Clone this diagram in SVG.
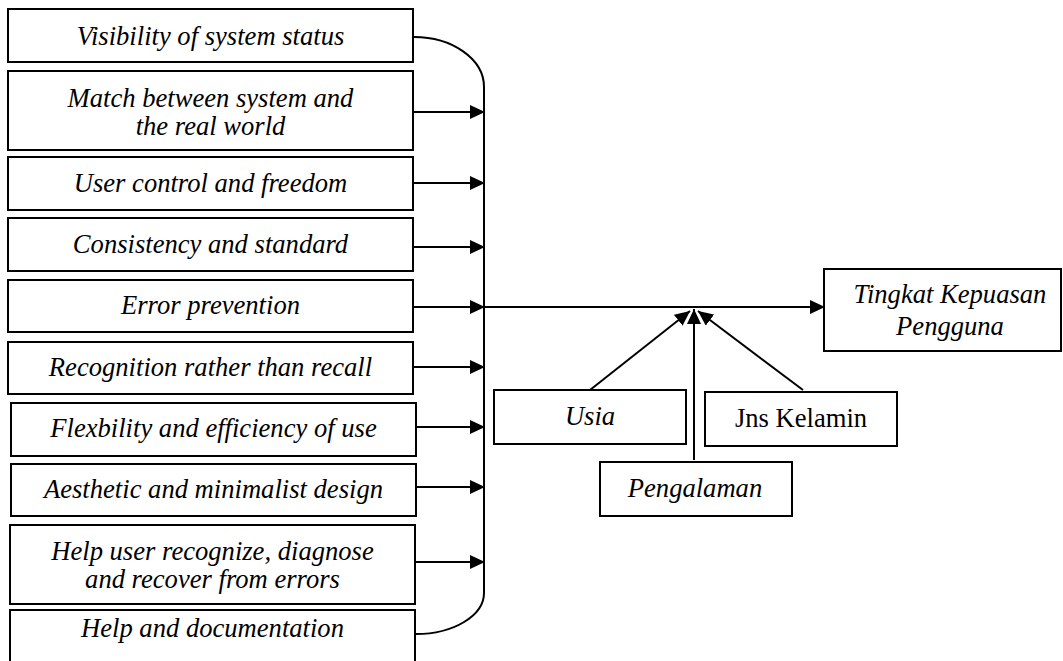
<svg xmlns="http://www.w3.org/2000/svg" width="1063" height="661" viewBox="0 0 1063 661">
<style>
.box{fill:#fff;stroke:#000;stroke-width:2}
.c{fill:none;stroke:#000;stroke-width:2}
</style>
<defs>
<marker id="ah" markerUnits="userSpaceOnUse" markerWidth="15" markerHeight="14" refX="15" refY="7" orient="auto">
<path d="M0,0 L15,7 L0,14 z" fill="#000"/>
</marker>
</defs>
<rect width="1063" height="661" fill="#fff"/>
<g id="nodes" font-family="Liberation Serif, Times New Roman, serif" font-size="26.6" font-style="italic" text-anchor="middle" fill="#000">
<g id="n1"><rect class="box" x="8" y="9" width="405" height="53"/><text x="210.5" y="45">Visibility of system status</text></g>
<g id="n2"><rect class="box" x="8" y="71" width="405" height="79"/><text x="210.5" y="107">Match between system and</text><text x="210.5" y="135">the real world</text></g>
<g id="n3"><rect class="box" x="8" y="157" width="405" height="53"/><text x="210.5" y="192">User control and freedom</text></g>
<g id="n4"><rect class="box" x="8" y="218" width="405" height="53"/><text x="210.5" y="253">Consistency and standard</text></g>
<g id="n5"><rect class="box" x="8" y="280" width="405" height="52"/><text x="210.5" y="314">Error prevention</text></g>
<g id="n6"><rect class="box" x="8" y="342" width="405" height="52"/><text x="210.5" y="376">Recognition rather than recall</text></g>
<g id="n7"><rect class="box" x="11" y="403" width="405" height="53"/><text x="213.5" y="437">Flexbility and efficiency of use</text></g>
<g id="n8"><rect class="box" x="11" y="464" width="405" height="52"/><text x="213.5" y="498">Aesthetic and minimalist design</text></g>
<g id="n9"><rect class="box" x="10" y="525" width="405" height="79"/><text x="212.5" y="560">Help user recognize, diagnose</text><text x="212.5" y="588">and recover from errors</text></g>
<g id="n10"><rect class="box" x="10" y="610" width="405" height="60"/><text x="212.5" y="637">Help and documentation</text></g>
<g id="n11"><rect class="box" x="824" y="269" width="237" height="82"/><text x="950" y="303">Tingkat Kepuasan</text><text x="950" y="335">Pengguna</text></g>
<g id="n12"><rect class="box" x="494" y="390" width="192" height="54"/><text x="590" y="425">Usia</text></g>
<g id="n13"><rect class="box" x="705" y="392" width="192" height="54"/><text x="801" y="427" font-style="normal">Jns Kelamin</text></g>
<g id="n14"><rect class="box" x="600" y="462" width="192" height="54"/><text x="695" y="497">Pengalaman</text></g>
</g>
<g id="connectors">
<path class="c" d="M413,37 A70,50 0 0 1 484,87 L484,593 A68,41 0 0 1 416,634"/>
<line class="c" x1="413" y1="112" x2="485" y2="112" marker-end="url(#ah)"/>
<line class="c" x1="413" y1="183" x2="485" y2="183" marker-end="url(#ah)"/>
<line class="c" x1="413" y1="247" x2="485" y2="247" marker-end="url(#ah)"/>
<line class="c" x1="413" y1="307" x2="485" y2="307" marker-end="url(#ah)"/>
<line class="c" x1="413" y1="367" x2="485" y2="367" marker-end="url(#ah)"/>
<line class="c" x1="416" y1="427" x2="485" y2="427" marker-end="url(#ah)"/>
<line class="c" x1="416" y1="487" x2="485" y2="487" marker-end="url(#ah)"/>
<line class="c" x1="415" y1="562" x2="485" y2="562" marker-end="url(#ah)"/>
<line class="c" x1="484" y1="307" x2="825" y2="307" marker-end="url(#ah)"/>
<line class="c" x1="590" y1="390" x2="690" y2="311" marker-end="url(#ah)"/>
<line class="c" x1="803" y1="390" x2="698" y2="311" marker-end="url(#ah)"/>
<line class="c" x1="694" y1="460" x2="694" y2="309" marker-end="url(#ah)"/>
</g>
</svg>
